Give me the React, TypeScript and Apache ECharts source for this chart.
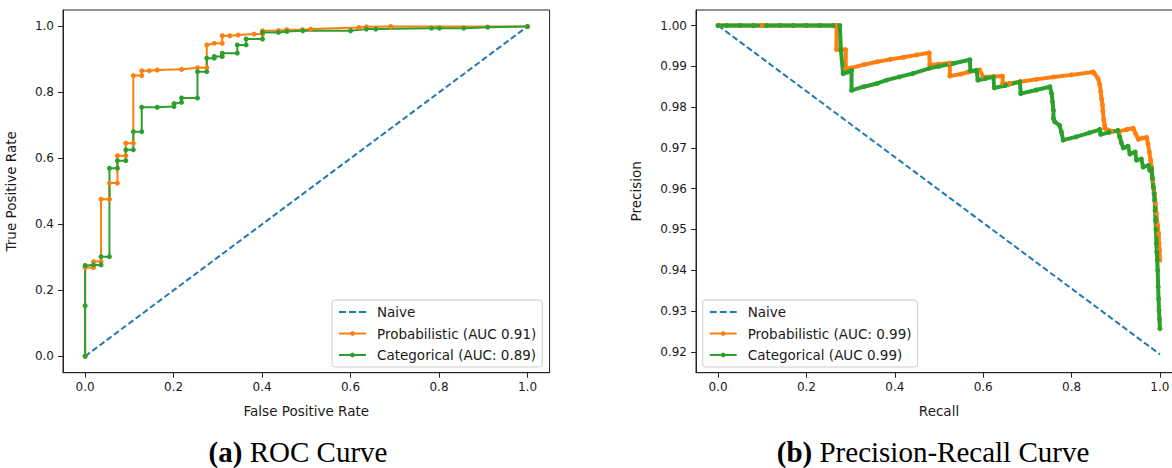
import React, { useEffect, useRef } from "react";
import * as echarts from "echarts";

const UNIT_TICKS = [0, 0.2, 0.4, 0.6, 0.8, 1.0];
const PR_Y_TICKS = [0.92, 0.93, 0.94, 0.95, 0.96, 0.97, 0.98, 0.99, 1.0];

const LEFT_LEGEND = ["Naive", "Probabilistic (AUC 0.91)", "Categorical (AUC: 0.89)"];
const RIGHT_LEGEND = ["Naive", "Probabilistic (AUC: 0.99)", "Categorical (AUC 0.99)"];

// ROC curves: [false positive rate, true positive rate]
const ROC_NAIVE = [[0, 0], [1, 1]];
const ROC_PROB = [
  [0, 0], [0, 0.269], [0.019, 0.269], [0.019, 0.287], [0.036, 0.287], [0.036, 0.476],
  [0.055, 0.476], [0.055, 0.525], [0.073, 0.525], [0.073, 0.608], [0.092, 0.608],
  [0.092, 0.646], [0.109, 0.646], [0.109, 0.851], [0.128, 0.851], [0.128, 0.866],
  [0.145, 0.866], [0.163, 0.868], [0.218, 0.87], [0.254, 0.875], [0.275, 0.875],
  [0.275, 0.944], [0.292, 0.949], [0.31, 0.949], [0.31, 0.972], [0.327, 0.972],
  [0.346, 0.974], [0.382, 0.977], [0.401, 0.977], [0.401, 0.987], [0.437, 0.987],
  [0.456, 0.99], [0.491, 0.99], [0.51, 0.992], [0.619, 0.997], [0.636, 0.999],
  [0.691, 1.0], [1, 1],
];
const ROC_CAT = [
  [0, 0], [0, 0.153], [0, 0.275], [0.019, 0.277], [0.036, 0.277], [0.036, 0.302],
  [0.055, 0.302], [0.055, 0.57], [0.073, 0.57], [0.073, 0.593], [0.092, 0.593],
  [0.092, 0.626], [0.109, 0.626], [0.109, 0.681], [0.128, 0.681], [0.128, 0.755],
  [0.163, 0.755], [0.201, 0.757], [0.201, 0.766], [0.218, 0.77], [0.218, 0.783],
  [0.254, 0.783], [0.254, 0.863], [0.275, 0.863], [0.275, 0.904], [0.292, 0.904],
  [0.292, 0.909], [0.31, 0.909], [0.31, 0.919], [0.344, 0.919], [0.344, 0.944],
  [0.364, 0.944], [0.364, 0.962], [0.401, 0.962], [0.401, 0.982], [0.437, 0.982],
  [0.456, 0.985], [0.492, 0.987], [0.6, 0.987], [0.636, 0.992], [0.657, 0.992],
  [0.783, 0.995], [0.801, 0.995], [0.856, 0.995], [0.91, 0.998], [1, 1],
];

// Precision-recall curves: [recall, precision]
const PR_NAIVE = [[0, 1], [1, 0.9194]];
const PR_PROB = [
  [0, 1], [0.1, 1], [0.2, 1], [0.268, 1], [0.268, 0.9941], [0.289, 0.9941], [0.289, 0.9895],
  [0.302, 0.9896], [0.33, 0.9904], [0.36, 0.9911], [0.39, 0.9917], [0.42, 0.9922],
  [0.45, 0.9928], [0.478, 0.9933], [0.479, 0.9904], [0.5, 0.9905], [0.5245, 0.9908],
  [0.5245, 0.9876], [0.55, 0.9881], [0.566, 0.9886], [0.592, 0.9891], [0.6, 0.9874],
  [0.625, 0.9875], [0.644, 0.9876], [0.644, 0.9858], [0.66, 0.9858], [0.683, 0.9862],
  [0.72, 0.9868], [0.76, 0.9874], [0.8, 0.9879], [0.849, 0.9886], [0.852, 0.9882],
  [0.86, 0.987], [0.864, 0.9855], [0.866, 0.9838], [0.868, 0.982], [0.87, 0.9806],
  [0.871, 0.979], [0.873, 0.9768], [0.875, 0.9755], [0.8755, 0.9748], [0.89, 0.9741],
  [0.909, 0.9741], [0.925, 0.9745], [0.9396, 0.9748], [0.945, 0.9735], [0.951, 0.9721],
  [0.96, 0.9724], [0.97, 0.9726], [0.973, 0.971], [0.976, 0.969], [0.979, 0.967],
  [0.981, 0.9653], [0.984, 0.962], [0.987, 0.959], [0.99, 0.9564], [0.992, 0.954],
  [0.995, 0.951], [0.997, 0.949], [0.998, 0.9466], [0.999, 0.945], [1, 0.9425],
];
const PR_CAT = [
  [0, 1], [0.02, 1], [0.05, 1], [0.08, 1], [0.11, 1], [0.14, 1], [0.17, 1], [0.2, 1],
  [0.23, 1], [0.26, 1], [0.2755, 1], [0.278, 0.9939], [0.283, 0.9882], [0.293, 0.9886],
  [0.302, 0.989], [0.302, 0.9841], [0.33, 0.985], [0.36, 0.9858], [0.381, 0.9866],
  [0.41, 0.9874], [0.44, 0.9882], [0.478, 0.9895], [0.5, 0.99], [0.532, 0.9907],
  [0.57, 0.9916], [0.571, 0.9889], [0.585, 0.989], [0.588, 0.9866], [0.605, 0.987],
  [0.623, 0.9874], [0.625, 0.9847], [0.65, 0.9853], [0.683, 0.9862], [0.685, 0.9833],
  [0.72, 0.9842], [0.751, 0.985], [0.755, 0.9833], [0.757, 0.9813], [0.759, 0.9792],
  [0.759, 0.9772], [0.762, 0.9764], [0.773, 0.9755], [0.777, 0.9739], [0.781, 0.9719],
  [0.81, 0.9727], [0.84, 0.9737], [0.864, 0.9745], [0.866, 0.9733], [0.885, 0.9738],
  [0.905, 0.9743], [0.909, 0.9727], [0.913, 0.9712], [0.917, 0.97], [0.928, 0.9704],
  [0.932, 0.9685], [0.944, 0.969], [0.947, 0.967], [0.958, 0.9673], [0.962, 0.9653],
  [0.974, 0.9657], [0.977, 0.9645], [0.981, 0.9649], [0.983, 0.9625], [0.985, 0.9604],
  [0.987, 0.9588], [0.988, 0.9572], [0.989, 0.9547], [0.99, 0.9523], [0.991, 0.95],
  [0.992, 0.9466], [0.993, 0.9445], [0.994, 0.9425], [0.995, 0.94], [0.996, 0.936],
  [0.997, 0.933], [0.998, 0.9302], [0.999, 0.928], [1, 0.9257],
];

const BLUE = "#1f77b4";
const ORANGE = "#ff7f0e";
const GREEN = "#2ca02c";
const INK = "#1a1a1a";
const SANS = "DejaVu Sans";
const DASH_ICON = "path://M0,0h7v2h-7z M10,0h7v2h-7z M20,0h7v2h-7z";

function xAxis(gridIndex: number, name: string) {
  return {
    type: "value",
    gridIndex,
    min: -0.05,
    max: 1.05,
    name,
    nameLocation: "middle",
    nameGap: 31,
    nameTextStyle: { fontFamily: SANS, fontSize: 13.5, color: INK },
    axisLine: { show: true, onZero: false, lineStyle: { color: "#222", width: 1 } },
    axisTick: { show: true, length: 5, lineStyle: { color: "#222" }, customValues: UNIT_TICKS },
    axisLabel: {
      customValues: UNIT_TICKS,
      formatter: (v: number) => v.toFixed(1),
      fontFamily: SANS,
      fontSize: 12,
      color: INK,
      margin: 8,
    },
    splitLine: { show: false },
  };
}

function yAxis(gridIndex: number, name: string, min: number, max: number, ticks: number[], digits: number, gap: number) {
  return {
    type: "value",
    gridIndex,
    min,
    max,
    name,
    nameLocation: "middle",
    nameRotate: 90,
    nameGap: gap,
    nameTextStyle: { fontFamily: SANS, fontSize: 13.5, color: INK },
    axisLine: { show: true, onZero: false, lineStyle: { color: "#222", width: 1 } },
    axisTick: { show: true, length: 5, lineStyle: { color: "#222" }, customValues: ticks },
    axisLabel: {
      customValues: ticks,
      formatter: (v: number) => v.toFixed(digits),
      fontFamily: SANS,
      fontSize: 12,
      color: INK,
      margin: 9,
    },
    splitLine: { show: false },
  };
}

function legend(left: number, names: string[]) {
  return {
    orient: "vertical",
    left,
    top: 300,
    padding: [5, 6, 5, 6],
    itemGap: 7.5,
    itemWidth: 27,
    itemHeight: 6,
    backgroundColor: "rgba(255,255,255,0.85)",
    borderColor: "#cccccc",
    borderWidth: 1,
    borderRadius: 3,
    lineStyle: { width: 2 },
    textStyle: { fontFamily: SANS, fontSize: 13.5, color: INK, padding: [0, 0, 0, 6] },
    selectedMode: false,
    data: names.map((n) => (n === "Naive" ? { name: n, icon: DASH_ICON } : { name: n })),
  };
}

function curve(name: string, data: number[][], color: string, idx: number, width: number) {
  return {
    name,
    type: "line",
    xAxisIndex: idx,
    yAxisIndex: idx,
    data,
    symbol: "circle",
    symbolSize: 5,
    showSymbol: true,
    color,
    itemStyle: { color },
    lineStyle: { color, width },
    emphasis: { disabled: true },
  };
}

function naive(data: number[][], idx: number) {
  return {
    name: "Naive",
    type: "line",
    xAxisIndex: idx,
    yAxisIndex: idx,
    data,
    symbol: "none",
    showSymbol: false,
    color: BLUE,
    itemStyle: { color: BLUE },
    lineStyle: { color: BLUE, width: 2, type: [6, 3] },
    emphasis: { disabled: true },
  };
}

export default function App() {
  const ref = useRef<HTMLDivElement>(null);
  useEffect(() => {
    const chart = echarts.init(ref.current!, null, { renderer: "svg" });
    const option = {
      animation: false,
      backgroundColor: "#ffffff",
      grid: [
        { left: 63, top: 10, width: 486.6, height: 362.7, show: true, borderColor: "#222", borderWidth: 1, backgroundColor: "transparent" },
        { left: 696, top: 10, width: 486, height: 362.7, show: true, borderColor: "#222", borderWidth: 1, backgroundColor: "transparent" },
      ],
      xAxis: [xAxis(0, "False Positive Rate"), xAxis(1, "Recall")],
      yAxis: [
        yAxis(0, "True Positive Rate", -0.05, 1.05, UNIT_TICKS, 1, 45),
        yAxis(1, "Precision", 0.9149, 1.0038, PR_Y_TICKS, 2, 53),
      ],
      legend: [legend(332, LEFT_LEGEND), legend(702.7, RIGHT_LEGEND)],
      series: [
        naive(ROC_NAIVE, 0),
        curve(LEFT_LEGEND[1], ROC_PROB, ORANGE, 0, 2),
        curve(LEFT_LEGEND[2], ROC_CAT, GREEN, 0, 2),
        naive(PR_NAIVE, 1),
        curve(RIGHT_LEGEND[1], PR_PROB, ORANGE, 1, 4),
        curve(RIGHT_LEGEND[2], PR_CAT, GREEN, 1, 4),
      ],
      graphic: [
        {
          type: "text",
          x: 298,
          y: 452,
          style: {
            text: "{b|(a)} ROC Curve",
            fontFamily: "Liberation Serif",
            fontSize: 29,
            fill: "#000",
            textAlign: "center",
            textVerticalAlign: "middle",
            rich: { b: { fontFamily: "Liberation Serif", fontSize: 29, fontWeight: "bold", fill: "#000" } },
          },
        },
        {
          type: "text",
          x: 933,
          y: 452,
          style: {
            text: "{b|(b)} Precision-Recall Curve",
            fontFamily: "Liberation Serif",
            fontSize: 29,
            fill: "#000",
            textAlign: "center",
            textVerticalAlign: "middle",
            rich: { b: { fontFamily: "Liberation Serif", fontSize: 29, fontWeight: "bold", fill: "#000" } },
          },
        },
      ],
    };
    chart.setOption(option as any);
    return () => chart.dispose();
  }, []);
  return (
    <div style={{ position: "absolute", left: 0, top: 0, width: 1172, height: 468, overflow: "hidden", background: "#fff" }}>
      <div ref={ref} style={{ width: 1200, height: 468 }} />
    </div>
  );
}
